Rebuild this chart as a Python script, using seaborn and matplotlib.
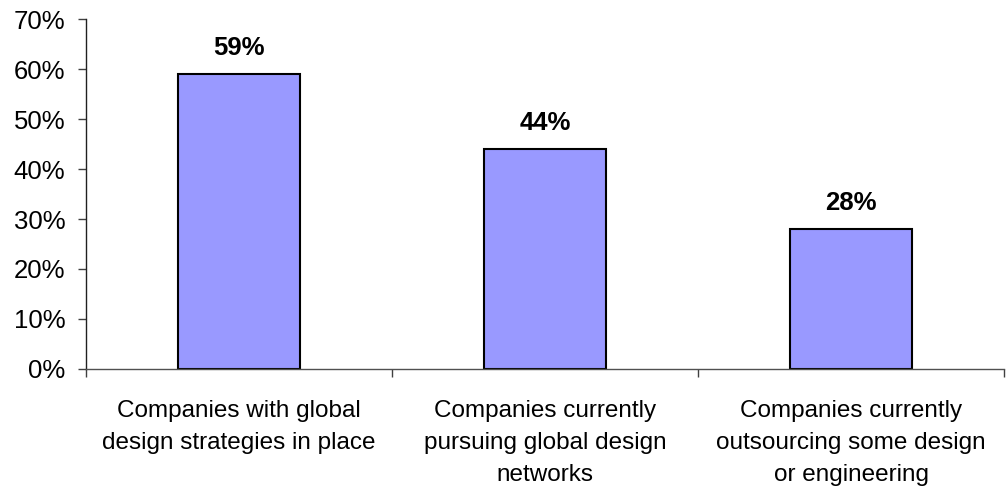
import matplotlib
matplotlib.use("Agg")
import matplotlib.pyplot as plt
import seaborn as sns
import pandas as pd
from matplotlib.ticker import FixedLocator, PercentFormatter

categories = [
    "Companies with global\ndesign strategies in place",
    "Companies currently\npursuing global design\nnetworks",
    "Companies currently\noutsourcing some design\nor engineering",
]
values = [59, 44, 28]
value_labels = ["59%", "44%", "28%"]
y_ticks = [0, 10, 20, 30, 40, 50, 60, 70]

sns.set_theme(style="white")
plt.rcParams['font.family'] = ['Liberation Sans', 'DejaVu Sans']
plt.rcParams['text.color'] = 'black'
plt.rcParams['xtick.color'] = 'black'
plt.rcParams['ytick.color'] = 'black'

df = pd.DataFrame({"category": categories, "value": values})

fig = plt.figure(figsize=(10.08, 4.88), dpi=100)
ax = fig.add_axes([86/1008, 1-369/488, (1004-86)/1008, (369-19)/488])

sns.barplot(data=df, x="category", y="value", color="#9999FF", saturation=1,
            width=0.4, edgecolor="black", linewidth=1.5, ax=ax)

ax.set_xlim(-0.5, 2.5)
ax.set_ylim(0, 70)
ax.set_yticks(y_ticks)
ax.yaxis.set_major_formatter(PercentFormatter(decimals=0))
ax.tick_params(axis="y", labelsize=18.5, length=6, width=1, color="#404040",
               labelcolor="black", pad=9, left=True)
ax.set_xticks([0, 1, 2])
ax.set_xticklabels(categories, fontsize=17.5, linespacing=1.57, color="black")
ax.tick_params(axis="x", which="major", length=0, pad=22.5)
ax.xaxis.set_minor_locator(FixedLocator([-0.5, 0.5, 1.5, 2.5]))
ax.tick_params(axis="x", which="minor", length=6, width=1, color="#404040", bottom=True)
ax.set_xlabel("")
ax.set_ylabel("")

for s in ["top", "right"]:
    ax.spines[s].set_visible(False)
ax.spines["left"].set_color("#202020")
ax.spines["bottom"].set_color("#505050")
for s in ["left", "bottom"]:
    ax.spines[s].set_linewidth(1)

for i, (v, lab) in enumerate(zip(values, value_labels)):
    ax.annotate(lab, (i, v), xytext=(0, 10), textcoords="offset points",
                ha="center", va="bottom", fontsize=18.5, fontweight="bold", color="black")

fig.savefig("out.png", dpi=100)
